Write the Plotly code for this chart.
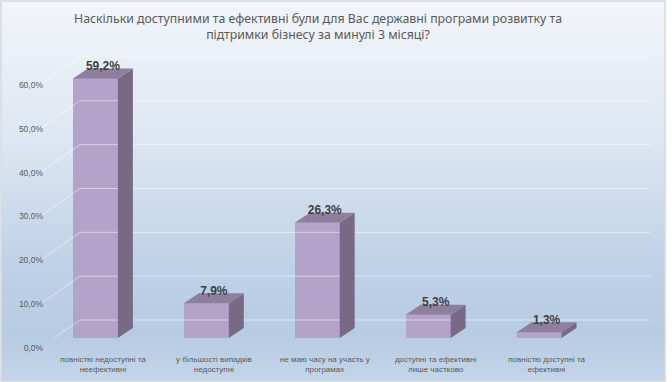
import base64
import plotly.graph_objects as go

# ---- data ----
categories = [
    "повністю недоступні та<br>неефективні",
    "у більшості випадків<br>недоступні",
    "не маю часу на участь у<br>програмах",
    "доступні та ефективні<br>лише частково",
    "повністю доступні та<br>ефективні",
]
values = [0.592, 0.079, 0.263, 0.053, 0.013]
value_labels = ["59,2%", "7,9%", "26,3%", "5,3%", "1,3%"]
y_ticks = [0.0, 0.1, 0.2, 0.3, 0.4, 0.5, 0.6]
title_text = ("Наскільки доступними та ефективні були для Вас державні програми розвитку та"
              "<br>підтримки бізнесу за минулі 3 місяці?")

# ---- style constants ----
W, H = 672, 382
ML, MR, MT, MB = 40, 22, 53, 44
XR = [-0.5, 5.0]
YR = [0.0, 0.65]
BAR_W = 0.405
DX = 0.135     # depth in x (data units)
DY = 0.0228    # depth in y (data units)
FRONT = "#b3a3c9"
SIDE = "#786985"
TOP = "#8e7f9f"
GRID_BACK = 0.041
GRID_FRONT = -0.023
WALL_X = -0.14

xs = list(range(len(categories)))
pw = W - ML - MR
ph = H - MT - MB

fig = go.Figure()

# background gradient (svg)
svg = f'''<svg xmlns="http://www.w3.org/2000/svg" width="{W}" height="{H}" preserveAspectRatio="none">
<defs><linearGradient id="g" x1="0" y1="0" x2="0" y2="1">
<stop offset="0" stop-color="#f2f5fa"/>
<stop offset="0.35" stop-color="#dee7f2"/>
<stop offset="0.7" stop-color="#bfd1e7"/>
<stop offset="0.88" stop-color="#b7cbe3"/>
<stop offset="1" stop-color="#c4d5e9"/>
</linearGradient></defs>
<rect x="0" y="0" width="{W}" height="{H}" fill="#ffffff"/>
<rect x="1" y="1" width="{W-8}" height="{H-2}" fill="url(#g)" stroke="#d3d9e1" stroke-width="1.5"/>
</svg>'''
src = "data:image/svg+xml;base64," + base64.b64encode(svg.encode()).decode()
fig.add_layout_image(dict(
    source=src, xref="paper", yref="paper",
    x=-ML / pw, y=1 + MT / ph, sizex=W / pw, sizey=H / ph,
    xanchor="left", yanchor="top", sizing="stretch", layer="below",
))

# gridlines: left wall diagonal + back wall horizontal
gx, gy = [], []
for t in y_ticks:
    gx += [XR[0], WALL_X, XR[1], None]
    gy += [t + GRID_FRONT, t + GRID_BACK, t + GRID_BACK, None]
fig.add_trace(go.Scatter(x=gx, y=gy, mode="lines",
                         line=dict(color="rgba(255,255,255,0.5)", width=1),
                         hoverinfo="skip", showlegend=False))

# front faces
fig.add_trace(go.Bar(x=xs, y=values, width=BAR_W, marker=dict(color=FRONT, line=dict(width=0)),
                     showlegend=False, hoverinfo="skip"))

# side + top faces
for x, v in zip(xs, values):
    r = x + BAR_W / 2
    l = x - BAR_W / 2
    fig.add_trace(go.Scatter(
        x=[r, r + DX, r + DX, r, r], y=[0, DY, v + DY, v, 0],
        mode="lines", fill="toself", fillcolor=SIDE, line=dict(width=0, color=SIDE),
        hoverinfo="skip", showlegend=False))
    fig.add_trace(go.Scatter(
        x=[l, l + DX, r + DX, r, l], y=[v, v + DY, v + DY, v, v],
        mode="lines", fill="toself", fillcolor=TOP, line=dict(width=0, color=TOP),
        hoverinfo="skip", showlegend=False))

# value labels
fig.add_trace(go.Scatter(
    x=[x + DX / 2 for x in xs], y=[v + 0.026 for v in values],
    mode="text", text=value_labels, textposition="middle center",
    textfont=dict(family="Liberation Sans, Arial, sans-serif", size=12, color="#3f3f3f", weight="bold"),
    hoverinfo="skip", showlegend=False))

fig.add_annotation(text=title_text, xref="paper", yref="paper",
                   x=(318 - ML) / pw, y=(ph + MT - 26.5) / ph, xanchor="center", yanchor="middle",
                   showarrow=False, align="center",
                   font=dict(family="Noto Sans, Open Sans, sans-serif", size=12.3, color="#595959"))

fig.update_layout(
    width=W, height=H,
    margin=dict(l=ML, r=MR, t=MT, b=MB, autoexpand=False),
    paper_bgcolor="rgba(0,0,0,0)", plot_bgcolor="rgba(0,0,0,0)",
    separators=", ",
    xaxis=dict(range=XR, tickvals=[x + DX / 2 for x in xs], ticktext=categories, showgrid=False,
               zeroline=False, showline=False, ticks="", tickangle=0, automargin=False,
               ticklabelstandoff=15,
               tickfont=dict(family="Liberation Sans Narrow, Arial Narrow, sans-serif", size=8, color="#595959")),
    yaxis=dict(range=YR, tickvals=y_ticks, tickformat=".1%", showgrid=False, zeroline=False,
               showline=False, ticks="", ticklabelshift=10, ticklabelstandoff=-4, automargin=False,
               tickfont=dict(family="Liberation Sans, Arial, sans-serif", size=8.5, color="#595959")),
    bargap=0,
)

fig.write_html("out.html", config={"displayModeBar": False},
               post_script="document.body.style.margin='0';document.body.style.overflow='hidden';")
